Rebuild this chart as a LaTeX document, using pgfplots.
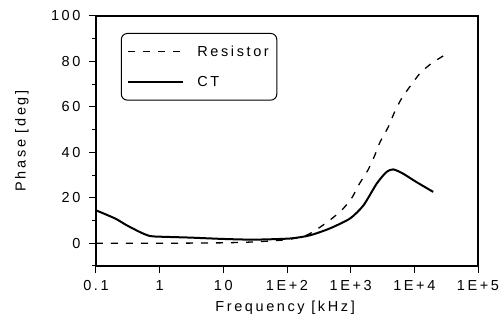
\documentclass[border=0pt]{standalone}
\usepackage{fontspec}
\setmainfont{Liberation Sans}[LetterSpace=18]
\usepackage{pgfplots}
\pgfplotsset{compat=1.18}
\begin{document}
\begin{tikzpicture}
\begin{axis}[
  width=382pt, height=250pt, scale only axis,
  xmode=log, xmin=0.1, xmax=1e5, ymin=-10, ymax=100,
  xtick={0.1,1,10,100,1000,10000,100000},
  xticklabels={0.1,1,10,1E+2,1E+3,1E+4,1E+5},
  ytick={0,20,40,60,80,100},
  minor ytick={-10,10,30,50,70,90},
  xminorticks=false,
  /pgf/number format/assume math mode=true,
  tick align=outside, tick pos=left,
  major tick length=7pt, minor tick length=4pt,
  tick style={line width=1pt, black},
  axis line style={line width=1.2pt},
  tick label style={font=\fontsize{14.5}{16}\selectfont},
  xticklabel style={yshift=-4pt},
  yticklabel style={xshift=-5pt},
  label style={font=\fontsize{14.5}{16}\selectfont},
  xlabel={Frequency [kHz]}, ylabel={Phase [deg]},
  xlabel style={at={(axis description cs:0.495,-0.168)}, anchor=center},
  ylabel style={at={(axis description cs:-0.194,0.5)}, anchor=center},
  legend style={at={(0.065,0.932)}, anchor=north west, rounded corners=6pt,
    draw=black, line width=1pt, font=\fontsize{14.5}{16}\selectfont,
    row sep=15pt, inner xsep=6pt, inner ysep=10pt},
  legend cell align=left,
  legend image code/.code={\draw[#1] (0pt,0pt) -- (55pt,0pt); \path (66pt,0pt);},
]
\addplot[black, line width=1.3pt, dash pattern=on 7pt off 8pt, smooth, tension=0.4] coordinates {
(0.1,0) (1,0) (10,0.2) (30,0.6) (100,1.6) (200,3.5) (290,6) (468,10.1)
(720,14.5) (1030,19.7) (1380,26.3) (1870,32.2) (2400,38.8) (2900,44.6)
(3900,51.2) (4900,57.8) (6300,63.7) (8500,68.9) (12300,74.8) (18700,79.2) (32000,83.3)};
\addlegendentry{Resistor}
\addplot[black, line width=2pt, smooth, tension=0.4] coordinates {
(0.1,14.5) (0.2,10.9) (0.3,8) (0.5,4.8) (0.7,3.2) (1,2.9) (3,2.5) (10,1.9)
(30,1.6) (111,2.1) (229,3.5) (468,6.5) (977,10.9) (1590,16.7) (2570,26.3)
(3660,31.4) (4670,32.5) (6600,30.7) (10700,27) (19800,22.6)};
\addlegendentry{CT}
\end{axis}
\pgfresetboundingbox
\path ([xshift=-96pt,yshift=-57pt]current axis.south west) rectangle ([xshift=24pt,yshift=16pt]current axis.north east);
\end{tikzpicture}
\end{document}
